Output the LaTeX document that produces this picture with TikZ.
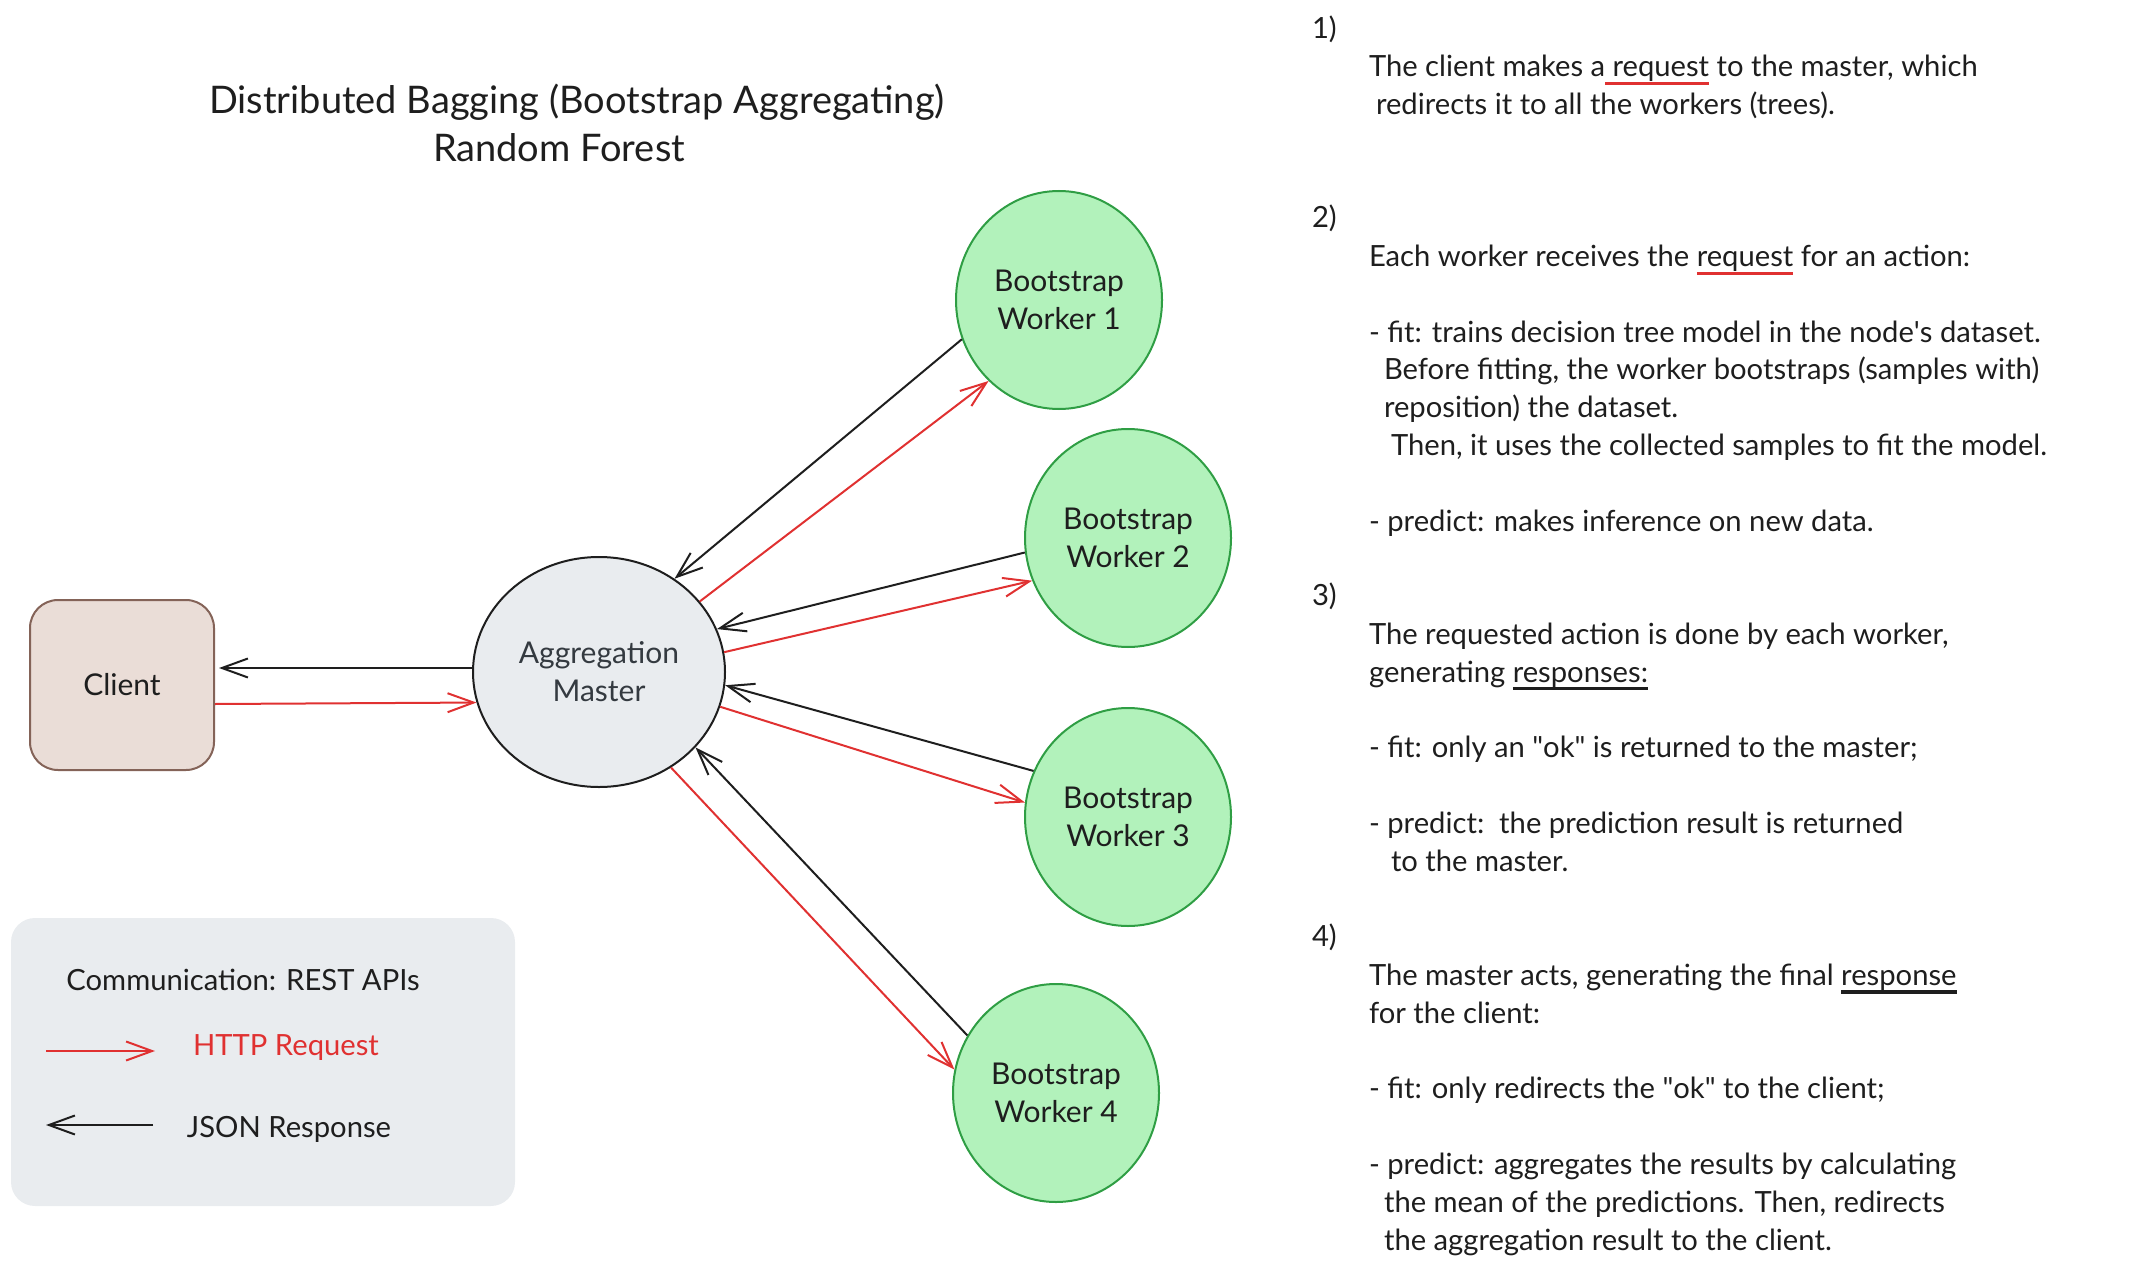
\documentclass[tikz,border=0pt]{standalone}
\usepackage{fontspec}
\setmainfont{Lato}
\usetikzlibrary{arrows.meta,shapes.geometric}

\definecolor{exred}{HTML}{E03131}
\definecolor{exblack}{HTML}{1E1E1E}
\definecolor{wfill}{HTML}{B2F2BB}
\definecolor{wdraw}{HTML}{2F9E44}
\definecolor{cfill}{HTML}{EADDD7}
\definecolor{cdraw}{HTML}{846358}
\definecolor{gfill}{HTML}{E9ECEF}
\definecolor{mtext}{HTML}{343A40}

\newcommand{\bodyfont}{\fontsize{15pt}{18.9pt}\selectfont}
\newcommand{\stepfont}{\fontsize{14.6pt}{18.9pt}\selectfont}
\newsavebox{\ulbox}
\newcommand{\redul}[1]{\sbox{\ulbox}{#1}\rlap{\textcolor{exred}{\rule[-4pt]{\wd\ulbox}{1.5pt}}}\usebox{\ulbox}}
\newcommand{\blkul}[1]{\sbox{\ulbox}{#1}\rlap{\textcolor{exblack}{\rule[-4pt]{\wd\ulbox}{1.8pt}}}\usebox{\ulbox}}

\begin{document}
\begin{tikzpicture}[x=0.5pt, y=-0.5pt, line width=1pt,
    >={Straight Barb[length=13pt, width=9.5pt]},
    worker/.style={ellipse, draw=wdraw, fill=wfill, minimum width=103pt, minimum height=109pt, inner sep=0pt, align=center, font=\bodyfont, text=exblack},
    req/.style={->, draw=exred},
    resp/.style={->, draw=exblack},
    txt/.style={inner sep=0pt, font=\stepfont, text=exblack, align=left}]
        \useasboundingbox (0,0) rectangle (2134,1267);

        % title
        \node[align=center, font=\fontsize{19pt}{23.8pt}\selectfont, text=exblack] (title) at (577,123)
            {Distributed Bagging (Bootstrap Aggregating)\\Random Forest\hspace*{18pt}};

        % client, master and the four workers
        \node[draw=cdraw, fill=cfill, rectangle, rounded corners=14pt, minimum width=92pt, minimum height=85pt, font=\bodyfont, text=exblack] (client) at (122,685) {Client};
        \node[draw=exblack, fill=gfill, ellipse, minimum width=126pt, minimum height=115pt, inner sep=0pt, align=center, font=\bodyfont, text=mtext] (master) at (599,672) {Aggregation\\Master};
        \node[worker] (w1) at (1059,300) {Bootstrap\\Worker 1};
        \node[worker] (w2) at (1128,538) {Bootstrap\\Worker 2};
        \node[worker] (w3) at (1128,817) {Bootstrap\\Worker 3};
        \node[worker] (w4) at (1056,1093) {Bootstrap\\Worker 4};

        % requests and responses
        \draw[req] ([yshift=-9.5pt]client.east) -- (master.194);
        \draw[resp] ([yshift=2pt]master.west) -- ([xshift=2pt, yshift=8.5pt]client.east);
        \draw[req] (master.35) -- (w1.229);
        \draw[resp] (w1.202) -- (master.51);
        \draw[req] (master.9) -- (w2.204);
        \draw[resp] (w2.188) -- (master.20);
        \draw[req] (master.-16) -- (w3.172);
        \draw[resp] (w3.154) -- (master.-6);
        \draw[req] (master.-53) -- (w4.167);
        \draw[resp] (w4.147) -- (master.-38);

        % legend
        \node[fill=gfill, rounded corners=12pt, minimum width=252pt, minimum height=144pt] (legend) at (263,1062) {};
        \node[font=\stepfont, text=exblack] (legtitle) at (243,980) {Communication: REST APIs};
        \node[font=\stepfont, text=exred] (legreq) at (286,1048) {HTTP Request};
        \node[font=\stepfont, text=exblack] (legresp) at (289,1129) {JSON Response};
        \coordinate (reqa) at (46,1051);
        \coordinate (reqb) at (155,1051);
        \coordinate (respa) at (153,1125);
        \coordinate (respb) at (46,1125);
        \draw[req] (reqa) -- (reqb);
        \draw[resp] (respa) -- (respb);

        % steps on the right
        \node[txt, anchor=west] (num1) at (1311,29) {1)};
        \node[txt, anchor=north west] (desc1) at (1368,54) {The client makes a\redul{ request} to the master, which\\
            \hspace*{3.5pt}redirects it to all the workers (trees).};
        \node[txt, anchor=west] (num2) at (1311,218) {2)};
        \node[txt, anchor=north west] (desc2) at (1368,244) {Each worker receives the \redul{request} for an action:\\[18.9pt]
            - fit: trains decision tree model in the node\textquotesingle s dataset.\\
            \hspace*{7.5pt}Before fitting, the worker bootstraps (samples with)\\
            \hspace*{7.5pt}reposition) the dataset.\\
            \hspace*{11pt}Then, it uses the collected samples to fit the model.\\[18.9pt]
            - predict: makes inference on new data.};
        \node[txt, anchor=west] (num3) at (1311,596) {3)};
        \node[txt, anchor=north west] (desc3) at (1368,622) {The requested action is done by each worker,\\
            generating \blkul{responses:}\\[18.9pt]
            - fit: only an \textquotedbl ok\textquotedbl{} is returned to the master;\\[18.9pt]
            - predict:\ \ the prediction result is returned\\
            \hspace*{11pt}to the master.};
        \node[txt, anchor=west] (num4) at (1311,937) {4)};
        \node[txt, anchor=north west] (desc4) at (1368,963) {The master acts, generating the final \blkul{response}\\
            for the client:\\[18.9pt]
            - fit: only redirects the \textquotedbl ok\textquotedbl{} to the client;\\[18.9pt]
            - predict: aggregates the results by calculating\\
            \hspace*{7.5pt}the mean of the predictions. Then, redirects\\
            \hspace*{7.5pt}the aggregation result to the client.};
    \end{tikzpicture}
\end{document}
